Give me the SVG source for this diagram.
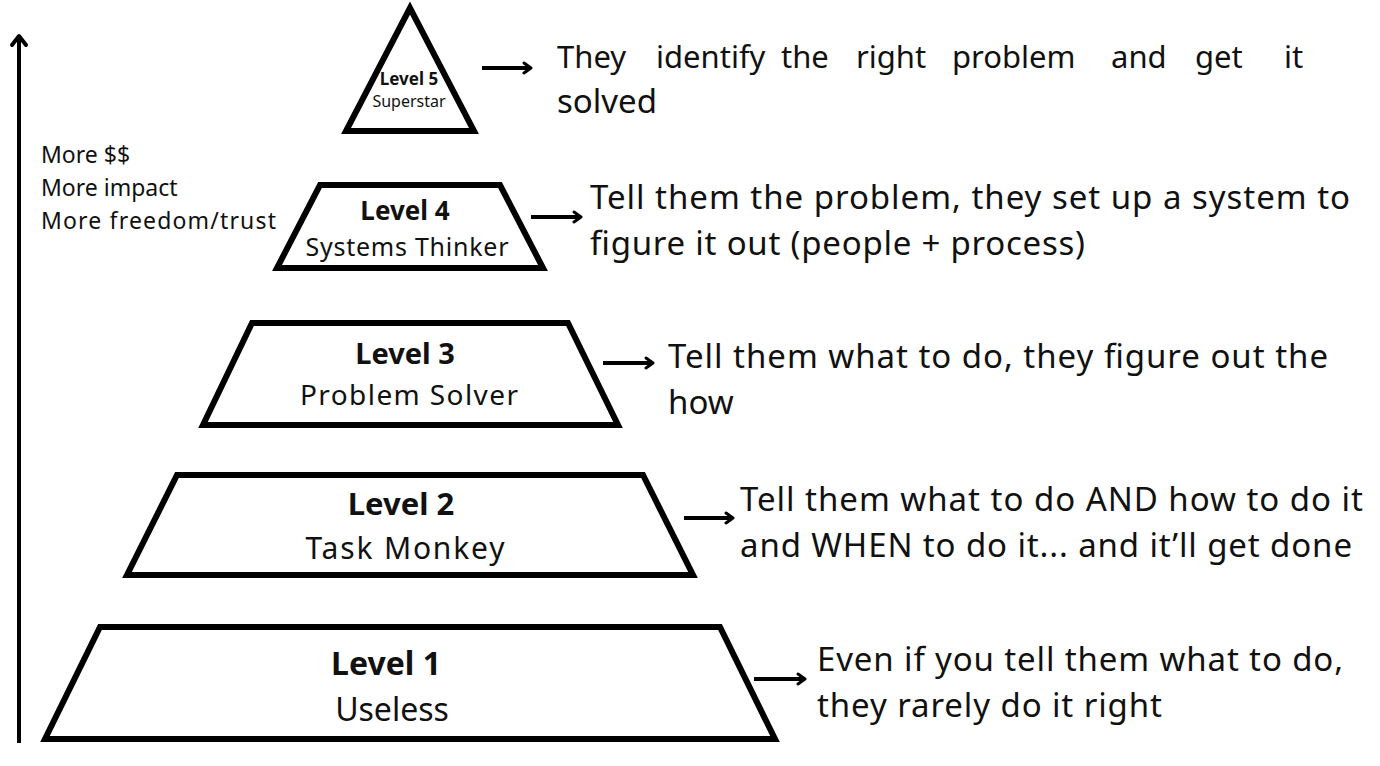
<svg xmlns="http://www.w3.org/2000/svg" width="1380" height="766" viewBox="0 0 1380 766">
<style>
.shape{fill:#fff;stroke:#000;stroke-width:6;stroke-linejoin:miter}
.conn{stroke:#000;stroke-width:4;fill:none}
.lvl{font-family:"Noto Sans","Open Sans",sans-serif;font-weight:bold;fill:#111;text-anchor:middle}
.name{font-family:"Noto Sans","Open Sans",sans-serif;fill:#111;text-anchor:middle}
.desc{font-family:"Noto Sans","Open Sans",sans-serif;font-size:33px;fill:#111}
.side{font-family:"Noto Sans","Open Sans",sans-serif;font-size:23px;fill:#111}
</style>
<defs>
<marker id="ah" viewBox="0 0 14 14" refX="11" refY="7" markerWidth="14" markerHeight="14" markerUnits="userSpaceOnUse" orient="auto">
<path d="M4,2 L11,7 L4,12" fill="none" stroke="#000" stroke-width="3" stroke-linecap="round" stroke-linejoin="round"/>
</marker>
<marker id="ahAxis" viewBox="0 0 20 20" refX="12" refY="10" markerWidth="20" markerHeight="20" markerUnits="userSpaceOnUse" orient="auto">
<path d="M3,3 L12,10 L3,17" fill="none" stroke="#000" stroke-width="4" stroke-linecap="round" stroke-linejoin="round"/>
</marker>
</defs>
<rect width="1380" height="766" fill="#fff"/>

<g id="connectors">
<line class="conn" x1="19" y1="743" x2="19" y2="36" marker-end="url(#ahAxis)"/>
<line class="conn" x1="482" y1="68" x2="531" y2="68" marker-end="url(#ah)"/>
<line class="conn" x1="531" y1="217" x2="581" y2="217" marker-end="url(#ah)"/>
<line class="conn" x1="603" y1="363" x2="653" y2="363" marker-end="url(#ah)"/>
<line class="conn" x1="684" y1="518" x2="733" y2="518" marker-end="url(#ah)"/>
<line class="conn" x1="754" y1="679" x2="805" y2="679" marker-end="url(#ah)"/>
</g>

<g id="axis-labels">
<text class="side" x="41" y="163">More $$</text>
<text class="side" x="41" y="196">More impact</text>
<text class="side" x="41" y="229" textLength="235" lengthAdjust="spacing">More freedom/trust</text>
</g>

<g id="level5">
<polygon class="shape" points="410,8 346,131 474,131"/>
<text class="lvl" x="409" y="85" font-size="17">Level 5</text>
<text class="name" x="409" y="107" font-size="16">Superstar</text>
<text class="desc" y="68" style="font-size:31px"><tspan x="557">They</tspan><tspan x="656">identify</tspan><tspan x="781">the</tspan><tspan x="856">right</tspan><tspan x="952">problem</tspan><tspan x="1111">and</tspan><tspan x="1195">get</tspan><tspan x="1284">it</tspan></text>
<text class="desc" x="557" y="113">solved</text>
</g>

<g id="level4">
<polygon class="shape" points="320,185 500,185 543,268 277,268"/>
<text class="lvl" x="405" y="220" font-size="26">Level 4</text>
<text class="name" x="407" y="256" font-size="25" textLength="203" lengthAdjust="spacing">Systems Thinker</text>
<text class="desc" x="590" y="209" textLength="760" lengthAdjust="spacing">Tell them the problem, they set up a system to</text>
<text class="desc" x="590" y="255" textLength="495" lengthAdjust="spacing">figure it out (people + process)</text>
</g>

<g id="level3">
<polygon class="shape" points="252,323 568,323 618,425 203,425"/>
<text class="lvl" x="405" y="364" font-size="29">Level 3</text>
<text class="name" x="409" y="405" font-size="28" textLength="218" lengthAdjust="spacing">Problem Solver</text>
<text class="desc" x="668" y="368" textLength="660" lengthAdjust="spacing">Tell them what to do, they figure out the</text>
<text class="desc" x="668" y="414">how</text>
</g>

<g id="level2">
<polygon class="shape" points="177,475 643,475 693,575 127,575"/>
<text class="lvl" x="401" y="515" font-size="31">Level 2</text>
<text class="name" x="405" y="559" font-size="30" textLength="199" lengthAdjust="spacing">Task Monkey</text>
<text class="desc" x="740" y="511" textLength="623" lengthAdjust="spacing">Tell them what to do AND how to do it</text>
<text class="desc" x="740" y="557" textLength="612" lengthAdjust="spacing">and WHEN to do it... and it’ll get done</text>
</g>

<g id="level1">
<polygon class="shape" points="100,627 720,627 775,739 45,739"/>
<text class="lvl" x="386" y="675" font-size="32">Level 1</text>
<text class="name" x="392" y="721" font-size="32">Useless</text>
<text class="desc" x="817" y="671" textLength="526" lengthAdjust="spacing">Even if you tell them what to do,</text>
<text class="desc" x="817" y="717" textLength="345" lengthAdjust="spacing">they rarely do it right</text>
</g>
</svg>
